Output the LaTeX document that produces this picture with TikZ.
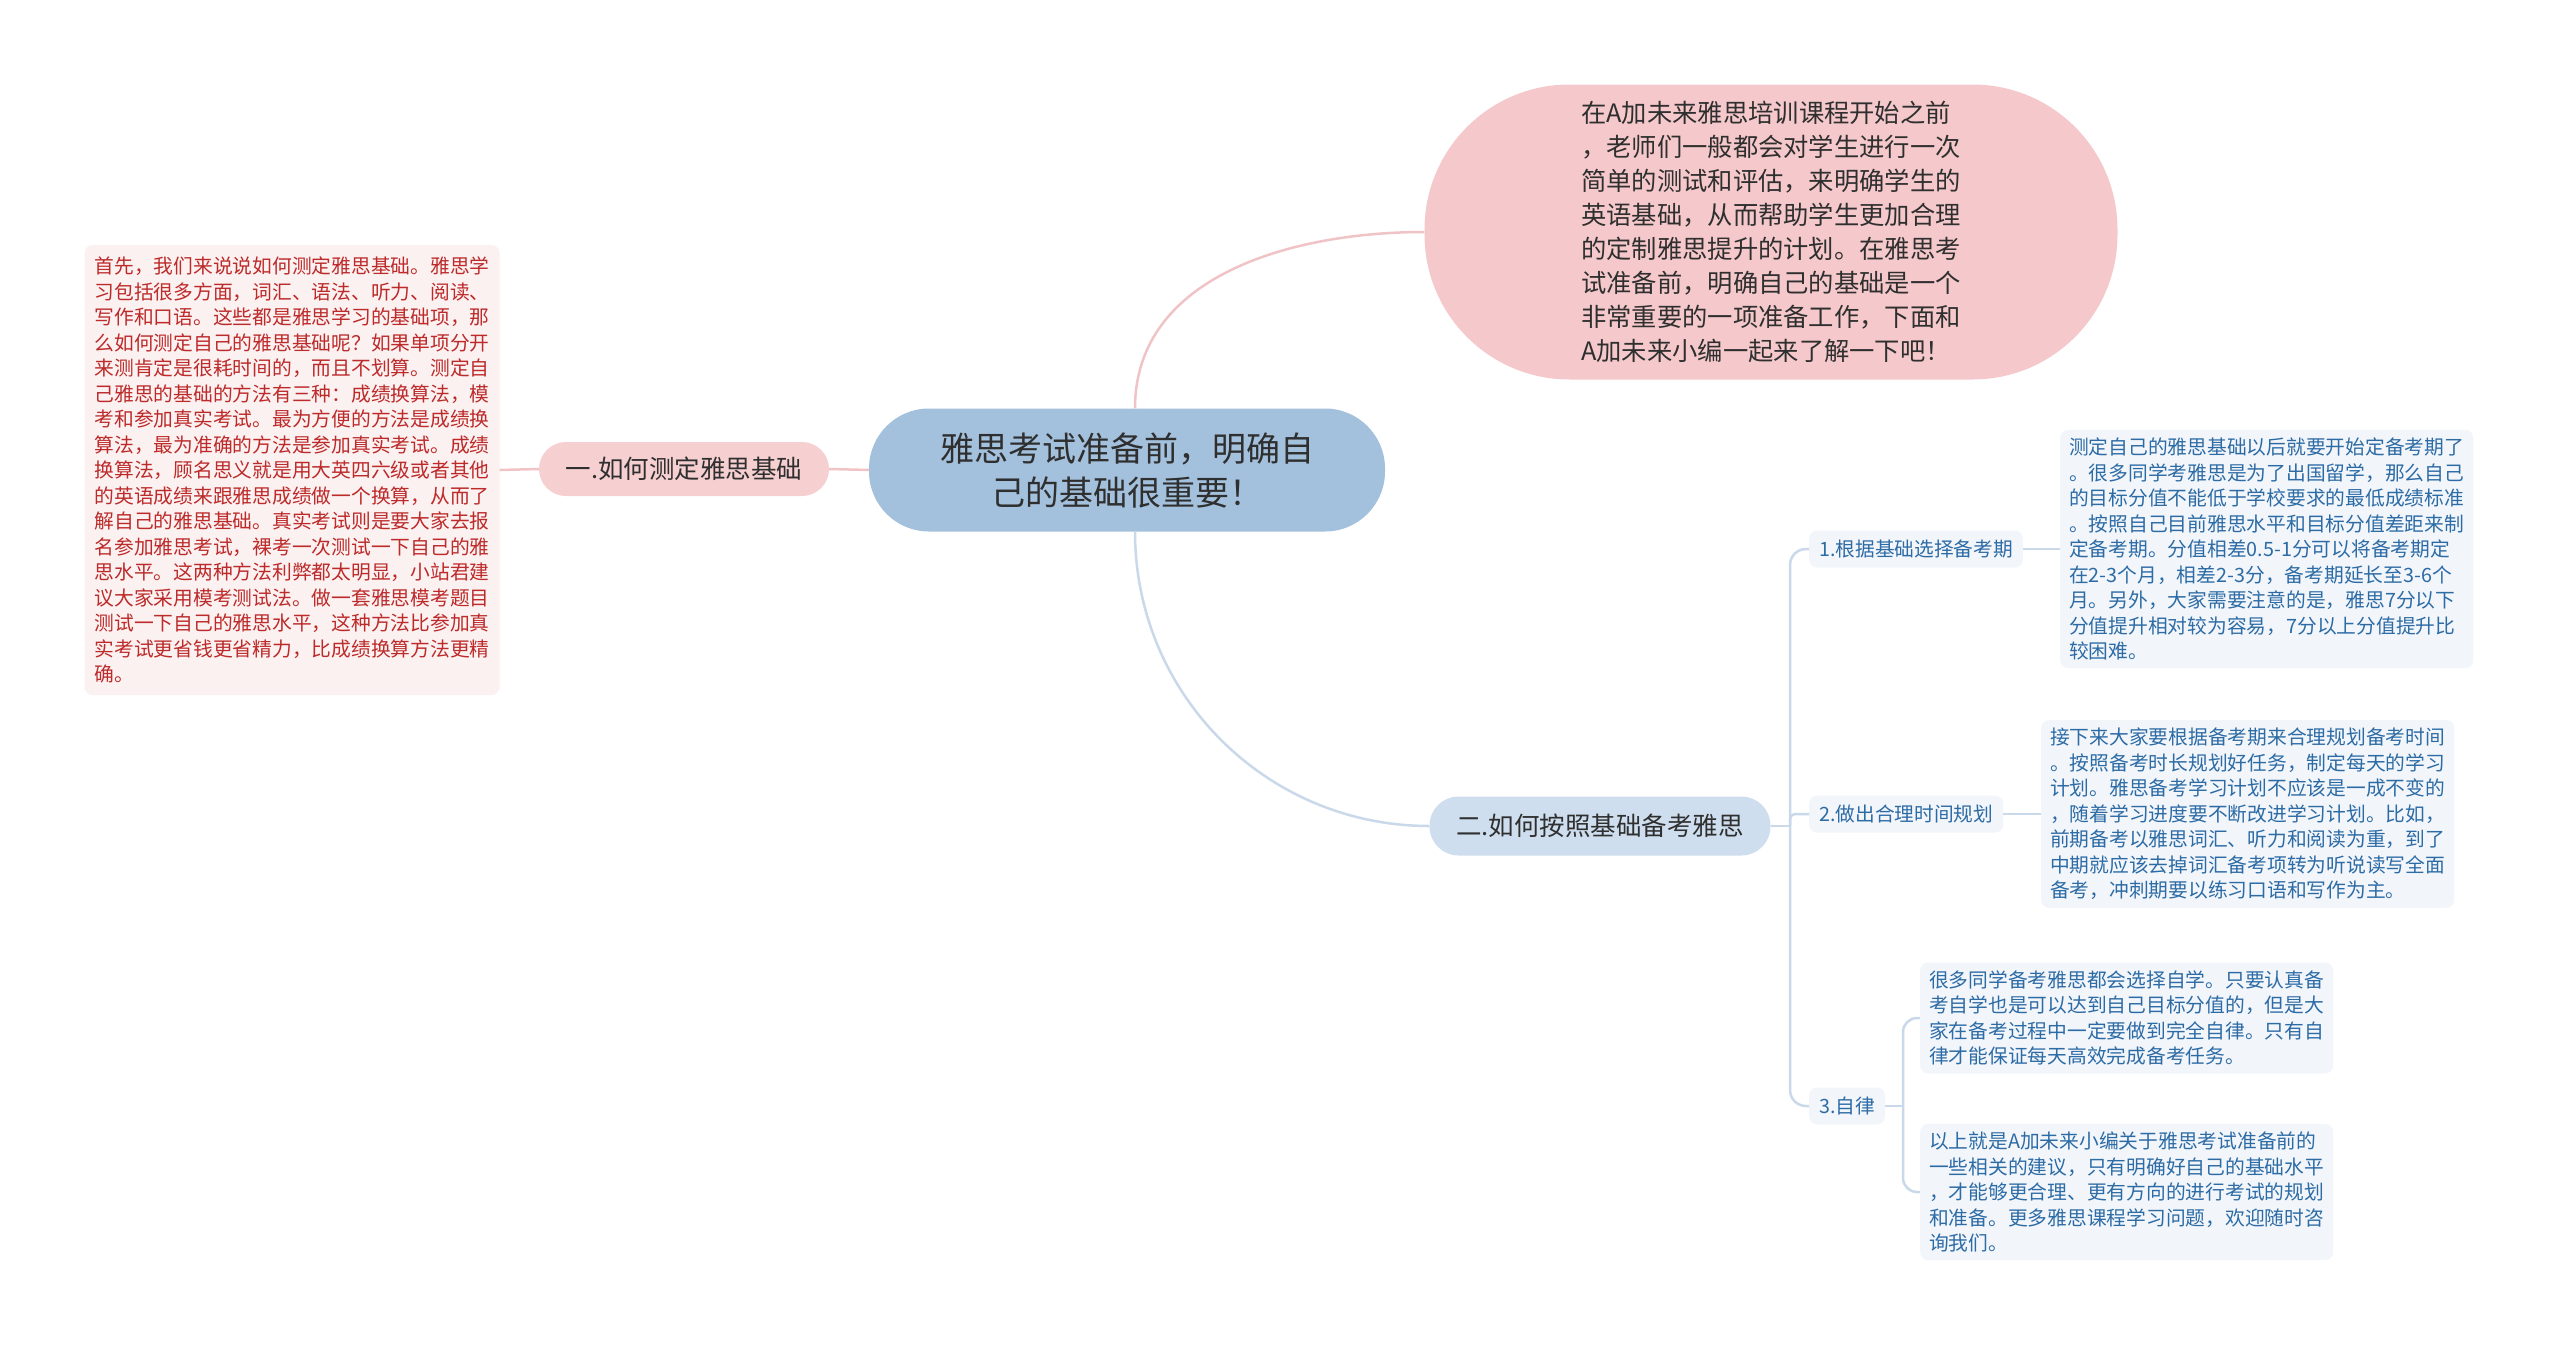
\documentclass[tikz,border=0pt]{standalone}
\usepackage{fontspec}
\setmainfont{Noto Sans CJK SC}
\definecolor{rootblue}{HTML}{A3C1DD}
\definecolor{toppink}{HTML}{F5C9CB}
\definecolor{branchpink}{HTML}{F6CFD1}
\definecolor{branchblue}{HTML}{CEDEEE}
\definecolor{childfill}{HTML}{F2F6FB}
\definecolor{leftfill}{HTML}{FCF1F1}
\definecolor{textdark}{HTML}{2F2F2F}
\definecolor{textblue}{HTML}{2D6BA5}
\definecolor{textred}{HTML}{BC2A2A}
\definecolor{linkpink}{HTML}{F0C4C6}
\definecolor{linkblue}{HTML}{C9D9EA}
\begin{document}
\begin{tikzpicture}[x=1pt,y=-1pt,
  pinkline/.style={draw=linkpink, line width=2.5pt},
  blueline/.style={draw=linkblue, line width=2.5pt},
  rootnode/.style={fill=rootblue, rounded corners=60pt, minimum width=516pt, minimum height=123pt, text=textdark, align=center, font=\fontsize{34}{44}\selectfont, inner sep=0pt},
  topnode/.style={fill=toppink, rounded corners=145pt, minimum width=693pt, minimum height=295pt, text=textdark, align=left, font=\fontsize{25.3}{34}\selectfont, inner sep=0pt},
  pinkbranch/.style={fill=branchpink, rounded corners=27pt, minimum width=290pt, minimum height=54pt, text=textdark, font=\fontsize{25.5}{30}\selectfont, inner sep=0pt},
  bluebranch/.style={fill=branchblue, rounded corners=29pt, minimum width=341pt, minimum height=59pt, text=textdark, font=\fontsize{25.5}{30}\selectfont, inner sep=0pt},
  leafbox/.style={fill=childfill, rounded corners=8pt, text=textblue, font=\fontsize{19.7}{24}\selectfont, inner xsep=10pt, minimum height=37pt},
  textbox/.style={fill=childfill, rounded corners=8pt, text=textblue, align=left, font=\fontsize{19.75}{25.5}\selectfont, inner xsep=9pt, inner ysep=8pt},
  redbox/.style={fill=leftfill, rounded corners=8pt, text=textred, align=left, font=\fontsize{19.75}{25.5}\selectfont, minimum width=415pt, minimum height=450pt, inner sep=0pt}
]
\useasboundingbox[fill=white] (0,0) rectangle (2560,1352);

% nodes
\node[rootnode] (c) at (1127,470) {雅思考试准备前，明确自\\己的基础很重要！};
\node[topnode] (p) at (1771,232) {在A加未来雅思培训课程开始之前\\，老师们一般都会对学生进行一次\\简单的测试和评估，来明确学生的\\英语基础，从而帮助学生更加合理\\的定制雅思提升的计划。在雅思考\\试准备前，明确自己的基础是一个\\非常重要的一项准备工作，下面和\\A加未来小编一起来了解一下吧！};
\node[pinkbranch] (l1) at (684,469) {一.如何测定雅思基础};
\node[redbox] (lt) at (292,470) {首先，我们来说说如何测定雅思基础。雅思学\\习包括很多方面，词汇、语法、听力、阅读、\\写作和口语。这些都是雅思学习的基础项，那\\么如何测定自己的雅思基础呢？如果单项分开\\来测肯定是很耗时间的，而且不划算。测定自\\己雅思的基础的方法有三种：成绩换算法，模\\考和参加真实考试。最为方便的方法是成绩换\\算法，最为准确的方法是参加真实考试。成绩\\换算法，顾名思义就是用大英四六级或者其他\\的英语成绩来跟雅思成绩做一个换算，从而了\\解自己的雅思基础。真实考试则是要大家去报\\名参加雅思考试，裸考一次测试一下自己的雅\\思水平。这两种方法利弊都太明显，小站君建\\议大家采用模考测试法。做一套雅思模考题目\\测试一下自己的雅思水平，这种方法比参加真\\实考试更省钱更省精力，比成绩换算方法更精\\确。};
\node[bluebranch] (b2) at (1600,826) {二.如何按照基础备考雅思};

\node[leafbox, anchor=west] (k1) at (1809,549) {1.根据基础选择备考期};
\node[leafbox, anchor=west] (k2) at (1809,814) {2.做出合理时间规划};
\node[leafbox, anchor=west] (k3) at (1809,1106) {3.自律};

\node[textbox, anchor=west] (t1) at (2060,549) {测定自己的雅思基础以后就要开始定备考期了\\。很多同学考雅思是为了出国留学，那么自己\\的目标分值不能低于学校要求的最低成绩标准\\。按照自己目前雅思水平和目标分值差距来制\\定备考期。分值相差0.5-1分可以将备考期定\\在2-3个月，相差2-3分，备考期延长至3-6个\\月。另外，大家需要注意的是，雅思7分以下\\分值提升相对较为容易，7分以上分值提升比\\较困难。};
\node[textbox, anchor=west] (t2) at (2041,814) {接下来大家要根据备考期来合理规划备考时间\\。按照备考时长规划好任务，制定每天的学习\\计划。雅思备考学习计划不应该是一成不变的\\，随着学习进度要不断改进学习计划。比如，\\前期备考以雅思词汇、听力和阅读为重，到了\\中期就应该去掉词汇备考项转为听说读写全面\\备考，冲刺期要以练习口语和写作为主。};
\node[textbox, anchor=west] (t3a) at (1920,1018) {很多同学备考雅思都会选择自学。只要认真备\\考自学也是可以达到自己目标分值的，但是大\\家在备考过程中一定要做到完全自律。只有自\\律才能保证每天高效完成备考任务。};
\node[textbox, anchor=west] (t3b) at (1920,1192) {以上就是A加未来小编关于雅思考试准备前的\\一些相关的建议，只有明确好自己的基础水平\\，才能够更合理、更有方向的进行考试的规划\\和准备。更多雅思课程学习问题，欢迎随时咨\\询我们。};

% connectors
\draw[pinkline] ([xshift=8pt]c.north) to[out=90,in=180] (p.west);
\draw[blueline] ([xshift=8pt]c.south) to[out=-90,in=180] (b2.west);
\draw[pinkline] (c.west) -- (l1.east);
\draw[pinkline] (l1.west) -- (lt.east);

\coordinate (f2) at (1790,826);
\draw[blueline] (b2.east) -- (f2);
\draw[blueline, rounded corners=16pt] (f2) |- (k1.west);
\draw[blueline, rounded corners=16pt] (f2) |- (k3.west);
\draw[blueline, rounded corners=5pt] (f2) |- (k2.west);
\draw[blueline] (k1.east) -- (t1.west);
\draw[blueline] (k2.east) -- (t2.west);

\coordinate (f3) at (1903,1106);
\draw[blueline] (k3.east) -- (f3);
\draw[blueline, rounded corners=14pt] (f3) |- (t3a.west);
\draw[blueline, rounded corners=14pt] (f3) |- (t3b.west);
\end{tikzpicture}
\end{document}
